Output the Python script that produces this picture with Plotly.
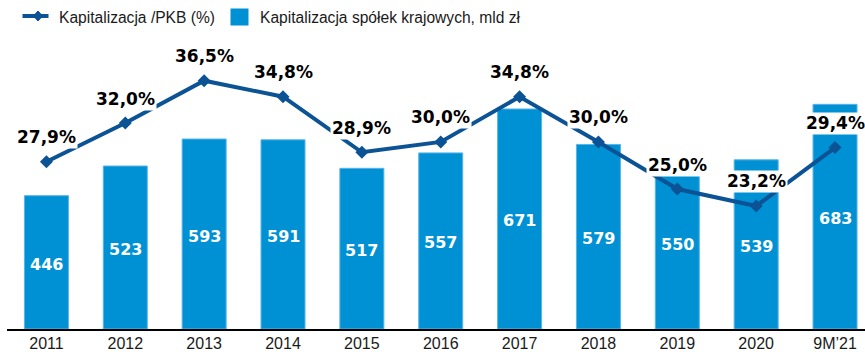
import plotly.graph_objects as go

# Market capitalisation of domestic companies (PLN bn) and capitalisation / GDP (%)
years = ["2011", "2012", "2013", "2014", "2015", "2016", "2017", "2018", "2019", "2020", "9M\u201921"]
cap_bn = [446, 523, 593, 591, 517, 557, 671, 579, 550, 539, 683]
cap_gdp_pct = [27.9, 32.0, 36.5, 34.8, 28.9, 30.0, 34.8, 30.0, 25.0, 23.2, 29.4]

BAR_COLOR = "#0091d5"
BAR_EDGE = "#58b5e8"
LINE_COLOR = "#0b5394"

# value axis is truncated: bars start at this level
CAP_AXIS_MIN = 100

W, H = 865, 352
ML, MR, MT, MB = 7, 0, 40, 23
PW, PH = W - ML - MR, H - MT - MB


def px(x):
    return (x - ML) / PW


def py(y):
    return (H - MB - y) / PH


fig = go.Figure()

fig.add_trace(go.Bar(
    x=years,
    y=[v - CAP_AXIS_MIN for v in cap_bn], base=CAP_AXIS_MIN,
    marker=dict(color=BAR_COLOR, line=dict(color=BAR_EDGE, width=1)),
    showlegend=False,
))

fig.add_trace(go.Scatter(
    x=years, y=cap_gdp_pct, yaxis="y2",
    mode="lines+markers",
    line=dict(color=LINE_COLOR, width=4),
    marker=dict(symbol="diamond", size=10, color=LINE_COLOR),
    showlegend=False,
))

annotations = []

# Bar values, centred in each bar
for i, v in enumerate(cap_bn):
    annotations.append(dict(
        x=i, y=(CAP_AXIS_MIN + v) / 2, xref="x", yref="y", yshift=-2,
        text=str(v), showarrow=False,
        font=dict(family="DejaVu Sans", size=16, color="white", weight="bold"),
    ))

# Percentage labels on white boxes above each point
for i, v in enumerate(cap_gdp_pct):
    annotations.append(dict(
        x=i, y=v, xref="x", yref="y2", yshift=24,
        text=f"{v:.1f}%".replace(".", ","),
        showarrow=False, bgcolor="white", borderpad=1, height=18.5,
        font=dict(family="DejaVu Sans", size=17, color="black", weight="bold"),
    ))

# Legend drawn in page coordinates
LEG_FONT = dict(family="Liberation Sans, Arial, sans-serif", size=15.6, color="#1a1a1a")
ly = 16
annotations.append(dict(x=px(57), y=py(ly + 1.5), xref="paper", yref="paper", xanchor="left", yanchor="middle",
                        text="Kapitalizacja /PKB (%)", showarrow=False, font=LEG_FONT))
annotations.append(dict(x=px(257.5), y=py(ly + 1.5), xref="paper", yref="paper", xanchor="left", yanchor="middle",
                        text="Kapitalizacja spółek krajowych, mld zł", showarrow=False, font=LEG_FONT))

dx, dy = 4.5, 5
diamond = (f"M {px(38)} {py(ly - dy)} L {px(38 + dx)} {py(ly)} "
           f"L {px(38)} {py(ly + dy)} L {px(38 - dx)} {py(ly)} Z")
shapes = [
    dict(type="line", xref="paper", yref="paper", x0=px(22.5), x1=px(48.5), y0=py(ly), y1=py(ly),
         line=dict(color=LINE_COLOR, width=4)),
    dict(type="path", xref="paper", yref="paper", path=diamond,
         fillcolor=LINE_COLOR, line=dict(color=LINE_COLOR, width=1)),
    dict(type="rect", xref="paper", yref="paper", x0=px(230.5), x1=px(248.5), y0=py(25.5), y1=py(8.5),
         fillcolor=BAR_COLOR, line=dict(width=0)),
]

fig.update_layout(
    width=W, height=H,
    margin=dict(l=ML, r=MR, t=MT, b=MB, pad=0, autoexpand=False),
    paper_bgcolor="white", plot_bgcolor="white",
    bargap=0.442,
    showlegend=False,
    xaxis=dict(
        type="category", range=[-0.5, 10.38], automargin=False,
        showline=True, linecolor="black", linewidth=2,
        showgrid=False, ticks="", zeroline=False, ticklabelstandoff=-1,
        tickfont=dict(family="Liberation Sans, Arial, sans-serif", size=16, color="#1a1a1a"),
    ),
    yaxis=dict(range=[CAP_AXIS_MIN, 850], visible=False, showgrid=False, zeroline=False, automargin=False),
    yaxis2=dict(range=[10.14, 40.82], overlaying="y", visible=False, showgrid=False, zeroline=False,
                automargin=False),
    annotations=annotations,
    shapes=shapes,
)

fig.write_html("out.html")
